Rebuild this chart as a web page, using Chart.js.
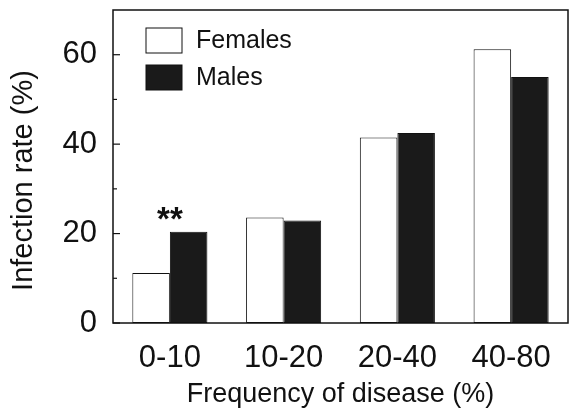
<!DOCTYPE html>
<html>
<head>
<meta charset="utf-8">
<script src="https://cdn.jsdelivr.net/npm/chart.js@4.4.0/dist/chart.umd.min.js"></script>
<style>
  html, body { margin: 0; padding: 0; background: #fff; }
  #wrap { width: 574px; height: 411px; }
</style>
</head>
<body>
<div id="wrap"><canvas id="infectionChart"></canvas></div>
<script>
// data
var categories = ['0-10', '10-20', '20-40', '40-80'];
var females = [11.2, 23.6, 41.5, 61.2];
var males = [20.4, 22.9, 42.5, 55.0];
var significance = ['**', '', '', ''];
var yTicks = [0, 20, 40, 60];
var yMinorTicks = [10, 30, 50];
var yTitle = 'Infection rate (%)';

var font = '"Liberation Sans", Arial, Helvetica, sans-serif';

// frame, inward ticks, legend box, y title and significance stars
var decorations = {
    id: 'decorations',
    afterDraw: function(chart) {
        var ctx = chart.ctx;
        var area = chart.chartArea;
        var y = chart.scales.y;
        ctx.save();
        ctx.strokeStyle = '#111';
        ctx.lineWidth = 1.5;
        ctx.strokeRect(area.left, area.top, area.right - area.left, area.bottom - area.top);

        ctx.lineWidth = 1.2;
        yTicks.forEach(function(v) {
            var py = y.getPixelForValue(v);
            ctx.beginPath();
            ctx.moveTo(area.left, py);
            ctx.lineTo(area.left + 7, py);
            ctx.stroke();
        });
        yMinorTicks.forEach(function(v) {
            var py = y.getPixelForValue(v);
            ctx.beginPath();
            ctx.moveTo(area.left, py);
            ctx.lineTo(area.left + 4, py);
            ctx.stroke();
        });

        // legend
        ctx.font = '25px ' + font;
        ctx.textBaseline = 'middle';
        chart.data.datasets.forEach(function(ds, i) {
            var bx = area.left + 33;
            var by = area.top + 18 + i * 37;
            ctx.fillStyle = ds.backgroundColor;
            ctx.fillRect(bx, by, 36, 25);
            ctx.strokeStyle = '#111';
            ctx.lineWidth = 1;
            ctx.strokeRect(bx, by, 36, 25);
            ctx.fillStyle = '#111';
            ctx.fillText(ds.label, bx + 50, by + 13);
        });

        // y axis title, sits a little below the middle of the plot
        ctx.save();
        ctx.translate(24, (area.top + area.bottom) / 2 + 14);
        ctx.rotate(-Math.PI / 2);
        ctx.textAlign = 'center';
        ctx.textBaseline = 'middle';
        ctx.font = '29px ' + font;
        ctx.fillText(yTitle, 0, 0);
        ctx.restore();

        // significance marks
        ctx.font = 'bold 33px ' + font;
        ctx.textAlign = 'center';
        ctx.textBaseline = 'alphabetic';
        var x = chart.scales.x;
        significance.forEach(function(s, i) {
            if (!s) return;
            var top = Math.max(females[i], males[i]);
            ctx.fillText(s, x.getPixelForValue(i), y.getPixelForValue(top) - 2);
        });
        ctx.restore();
    }
};

new Chart(document.getElementById('infectionChart'), {
    type: 'bar',
    data: {
        labels: categories,
        datasets: [
            {
                label: 'Females',
                data: females,
                backgroundColor: '#ffffff',
                borderColor: '#111',
                borderWidth: 1,
                borderSkipped: false
            },
            {
                label: 'Males',
                data: males,
                backgroundColor: '#1a1a1a',
                borderColor: '#111',
                borderWidth: 1,
                borderSkipped: false
            }
        ]
    },
    options: {
        responsive: true,
        maintainAspectRatio: false,
        animation: false,
        layout: { padding: { top: 10, right: 6, left: 0, bottom: 0 } },
        datasets: {
            bar: { categoryPercentage: 0.66, barPercentage: 1.0 }
        },
        plugins: {
            legend: { display: false },
            tooltip: { enabled: false }
        },
        scales: {
            x: {
                grid: { display: false, drawTicks: false },
                border: { display: false },
                ticks: {
                    color: '#111',
                    padding: 17,
                    font: { family: font, size: 31 }
                },
                title: {
                    display: true,
                    text: 'Frequency of disease (%)',
                    color: '#111',
                    padding: { top: 2, bottom: 0 },
                    font: { family: font, size: 27 }
                },
                afterFit: function(scale) {
                    scale.height = 88;
                    scale.paddingLeft = 0;
                    scale.paddingRight = 0;
                }
            },
            y: {
                min: 0,
                max: 70,
                grid: { display: false, drawTicks: false },
                border: { display: false },
                afterBuildTicks: function(scale) {
                    scale.ticks = yTicks.map(function(v) { return { value: v }; });
                },
                ticks: {
                    color: '#111',
                    padding: 16,
                    font: { family: font, size: 31 }
                },
                title: { display: false },
                afterFit: function(scale) {
                    scale.width = 113;
                    scale.paddingTop = 0;
                    scale.paddingBottom = 0;
                }
            }
        }
    },
    plugins: [decorations]
});
</script>
</body>
</html>
